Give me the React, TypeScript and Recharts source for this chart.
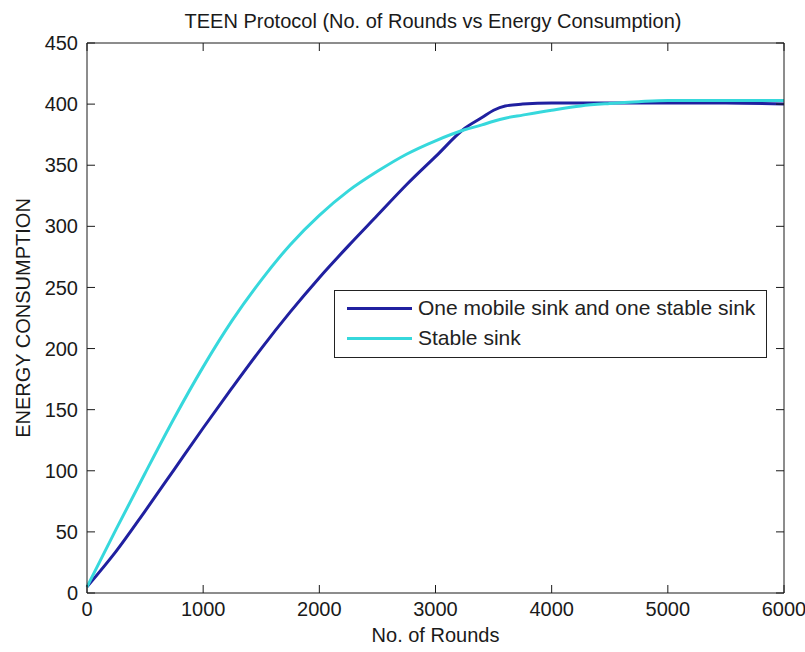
import React from 'react';
import { LineChart, Line, XAxis, YAxis, Legend } from 'recharts';

const rounds = [0, 250, 500, 750, 1000, 1250, 1500, 1750, 2000, 2250, 2500, 2750, 3000, 3250, 3400, 3500, 3600, 3750, 4000, 4250, 4500, 4750, 5000, 5500, 6000];
const mobileSink = [5, 34, 67, 101, 135, 168, 200, 230, 258, 284, 309, 334, 357, 380, 389, 395, 398.5, 400, 401, 401, 401, 401, 401, 401, 400];
const stableSink = [5, 52, 98, 143, 185, 223, 256, 285, 309, 329, 345, 359, 370, 379, 383, 386, 388.5, 391, 395, 398.5, 400.5, 402, 403, 403, 403];

const xTicks = [0, 1000, 2000, 3000, 4000, 5000, 6000];
const yTicks = [0, 50, 100, 150, 200, 250, 300, 350, 400, 450];

const series = [
  { key: 'mobile', name: 'One mobile sink and one stable sink', color: '#2020a0' },
  { key: 'stable', name: 'Stable sink', color: '#36d8dc' },
];

const data = rounds.map((r, i) => ({ round: r, mobile: mobileSink[i], stable: stableSink[i] }));

const FONT = "'Liberation Sans', Arial, sans-serif";
const AXIS = '#1a1a1a';
const GAP = 9; // tickMargin between axis and label
const TICK = 8; // inward tick length

// inward tick marks only, no labels
const NoLabel = () => <g />;

// bottom axis: label below, tick mark pointing up into the plot
const BottomTick = (props: any) => {
  const { x, y, payload } = props;
  return (
    <g>
      <line x1={x} y1={y - GAP} x2={x} y2={y - GAP - TICK} stroke={AXIS} />
      <text x={x} y={y} dy="0.71em" textAnchor="middle" style={{ fontFamily: FONT, fontSize: 20, fill: '#1a1a1a' }}>
        {payload.value}
      </text>
    </g>
  );
};

// left axis: label left, tick mark pointing right into the plot
const LeftTick = (props: any) => {
  const { x, y, payload } = props;
  return (
    <g>
      <line x1={x + GAP} y1={y} x2={x + GAP + TICK} y2={y} stroke={AXIS} />
      <text x={x} y={y} dy="0.355em" textAnchor="end" style={{ fontFamily: FONT, fontSize: 20, fill: '#1a1a1a' }}>
        {payload.value}
      </text>
    </g>
  );
};

function LegendBox() {
  return (
    <div
      style={{
        width: 433,
        height: 68,
        boxSizing: 'border-box',
        border: '1px solid #222',
        background: '#fff',
        paddingTop: 2,
        fontFamily: FONT,
        fontSize: 21,
        color: '#222',
      }}
    >
      {series.map(s => (
        <div key={s.key} style={{ display: 'flex', alignItems: 'center', height: 30 }}>
          <span style={{ display: 'inline-block', width: 65, height: 3, background: s.color, marginLeft: 12, marginRight: 6 }} />
          <span>{s.name}</span>
        </div>
      ))}
    </div>
  );
}

const YTitle = () => (
  <text
    x={23}
    y={318}
    transform="rotate(-90 23 318)"
    textAnchor="middle"
    dominantBaseline="central"
    style={{ fontFamily: FONT, fontSize: 20, fill: '#1a1a1a' }}
  >
    ENERGY CONSUMPTION
  </text>
);

export default function App() {
  return (
    <div style={{ position: 'absolute', left: 0, top: 0, width: 805, height: 652, background: '#fff' }}>
      <div
        style={{
          position: 'absolute',
          left: 0,
          top: 9,
          width: 866,
          textAlign: 'center',
          fontFamily: FONT,
          fontSize: 20,
          lineHeight: '24px',
          color: '#1a1a1a',
          zIndex: 2,
        }}
      >
        TEEN Protocol (No. of Rounds vs Energy Consumption)
      </div>
      <LineChart width={805} height={652} data={data} margin={{ top: 43, right: 21, bottom: 0, left: 0 }}>
        <XAxis
          xAxisId="b"
          dataKey="round"
          type="number"
          domain={[0, 6000]}
          ticks={xTicks}
          height={59}
          tickLine={false}
          tickSize={0}
          tickMargin={GAP}
          axisLine={{ stroke: AXIS }}
          tick={BottomTick}
          label={{ value: 'No. of Rounds', position: 'insideBottom', offset: 10, style: { fontFamily: FONT, fontSize: 20, fill: '#1a1a1a' } }}
        />
        <XAxis xAxisId="t" dataKey="round" type="number" domain={[0, 6000]} allowDataOverflow ticks={xTicks} orientation="top" mirror tick={NoLabel} tickLine={{ stroke: AXIS }} tickSize={TICK} stroke={AXIS} />
        <YAxis
          yAxisId="l"
          type="number"
          domain={[0, 450]}
          ticks={yTicks}
          width={87}
          tickLine={false}
          tickSize={0}
          tickMargin={GAP}
          axisLine={{ stroke: AXIS }}
          tick={LeftTick}
          label={{ content: () => <YTitle /> }}
        />
        <YAxis yAxisId="r" type="number" domain={[0, 450]} allowDataOverflow ticks={yTicks} orientation="right" mirror tick={NoLabel} tickLine={{ stroke: AXIS }} tickSize={TICK} stroke={AXIS} />
        <Legend
          layout="vertical"
          align="center"
          verticalAlign="middle"
          wrapperStyle={{ left: 334, top: 290, width: 433, height: 68 }}
          content={() => <LegendBox />}
        />
        {series.map(s => (
          <Line
            key={s.key}
            xAxisId="b"
            yAxisId="l"
            type="monotone"
            dataKey={s.key}
            name={s.name}
            stroke={s.color}
            strokeWidth={3}
            dot={false}
            activeDot={false}
            isAnimationActive={false}
          />
        ))}
      </LineChart>
    </div>
  );
}
